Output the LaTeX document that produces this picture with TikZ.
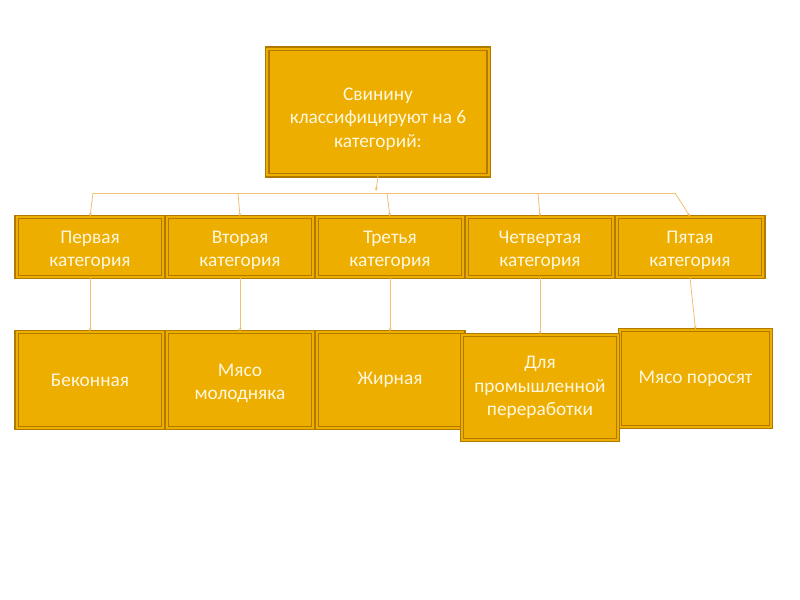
\documentclass[tikz,border=0pt]{standalone}
\usepackage{fontspec}
\setmainfont{Carlito}
\usetikzlibrary{arrows.meta}

\definecolor{boxfill}{RGB}{238,174,0}
\definecolor{boxedge}{RGB}{176,122,0}
\definecolor{boxtext}{RGB}{255,248,222}
\definecolor{linkcol}{RGB}{240,192,112}

% extra room above the first line, so the text sits lower
\newcommand{\lowgap}[1]{\rule{0pt}{#1}}

\tikzset{
  catbox/.style={draw=boxedge, double=boxfill, double distance=1.5pt, line width=0.9pt,
    fill=boxfill, text=boxtext, align=center, inner sep=0pt,
    font=\fontsize{14.5}{17.5}\selectfont},
  link/.style={draw=linkcol, line width=0.6pt, -{Stealth[length=2.5pt,width=2.2pt]}},
  bar/.style={draw=linkcol, line width=0.6pt}
}

\begin{document}
\begin{tikzpicture}[x=0.75pt,y=-0.75pt]
    \useasboundingbox[fill=white] (0,0) rectangle (800,600);
    % top box
    \node[catbox, minimum width=166pt, minimum height=95pt] (top) at (378,112)
        {\lowgap{20pt}Свинину\\классифицируют на 6\\категорий:};
    % categories
    \node[catbox, minimum width=110pt, minimum height=45pt] (c1) at (90,247) {\lowgap{14.5pt}Первая\\категория};
    \node[catbox, minimum width=110pt, minimum height=45pt] (c2) at (240,247) {\lowgap{14.5pt}Вторая\\категория};
    \node[catbox, minimum width=110pt, minimum height=45pt] (c3) at (390,247) {\lowgap{14.5pt}Третья\\категория};
    \node[catbox, minimum width=110pt, minimum height=45pt] (c4) at (540,247) {\lowgap{14.5pt}Четвертая\\категория};
    \node[catbox, minimum width=110pt, minimum height=45pt] (c5) at (690,247) {\lowgap{14.5pt}Пятая\\категория};
    % kinds of meat
    \node[catbox, minimum width=110pt, minimum height=72pt] (d1) at (90,380) {Беконная};
    \node[catbox, minimum width=110pt, minimum height=72pt] (d2) at (240,380) {\lowgap{14.5pt}Мясо\\молодняка};
    \node[catbox, minimum width=110pt, minimum height=72pt] (d3) at (390,380) {Жирная};
    \node[catbox, minimum width=113pt, minimum height=73pt] (d5) at (695.5,378.5) {Мясо поросят};
    \node[catbox, minimum width=117pt, minimum height=79pt] (d4) at (540,387.5)
        {Для\\промышленной\\переработки};
    % connectors
    \coordinate (hub) at (376,191);
    \coordinate (barL) at (93,193);
    \coordinate (barR) at (675,193);
    \draw[link] (top.south) -- (hub);
    \draw[bar] (barL) -- (barR);
    \foreach \bx/\n in {93/c1, 238/c2, 387/c3, 538/c4, 675/c5}
        \draw[link] (\bx,193) -- (\n.north);
    \foreach \i in {1,...,5}
        \draw[link] (c\i.south) -- (d\i.north);
\end{tikzpicture}
\end{document}
